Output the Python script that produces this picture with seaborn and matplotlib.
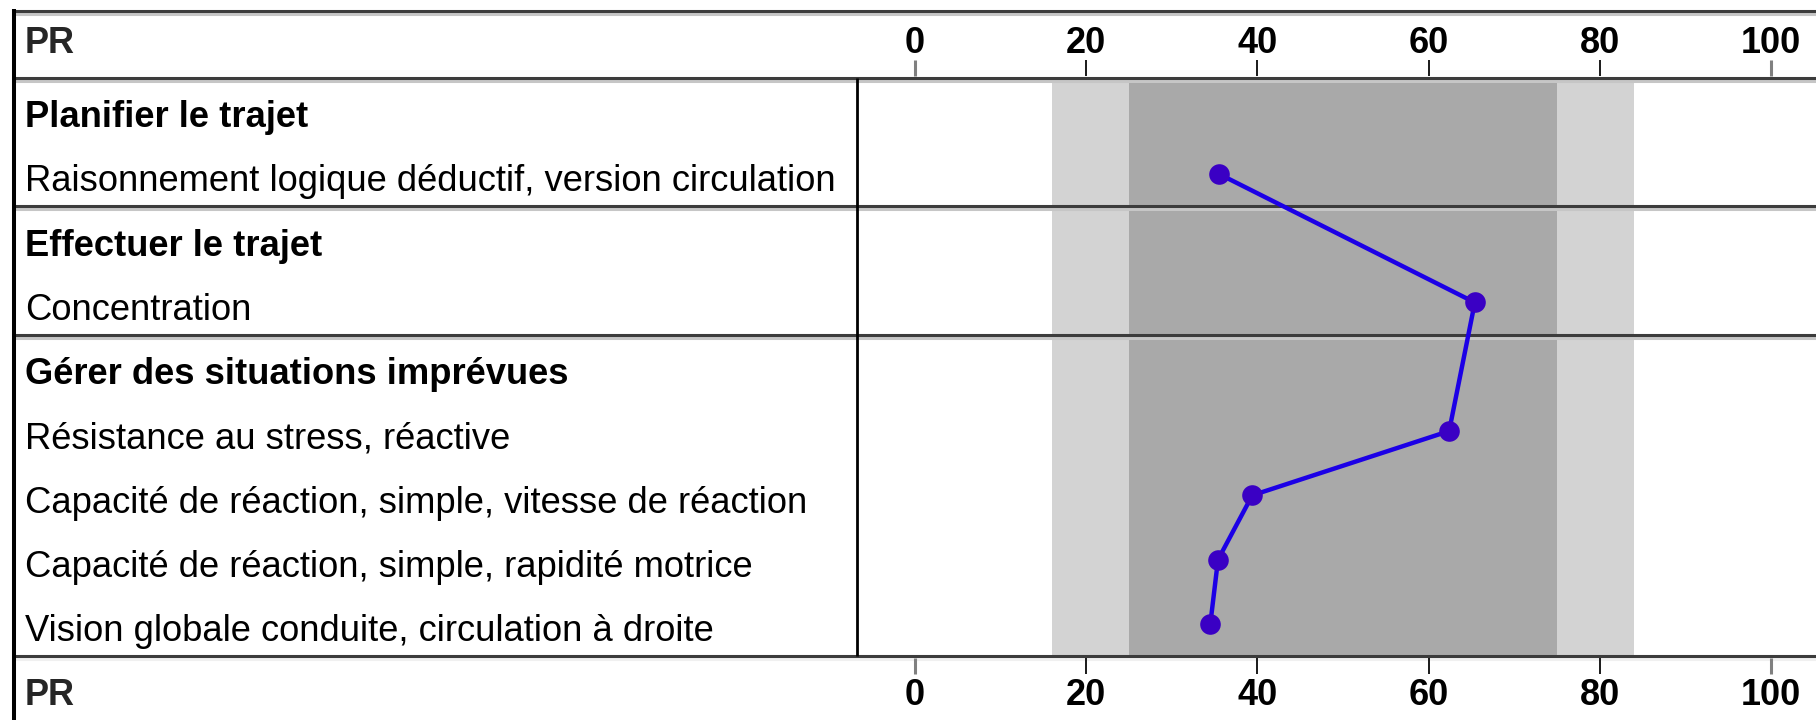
import pandas as pd
import matplotlib
matplotlib.use('Agg')
import matplotlib.pyplot as plt
import seaborn as sns

# row labels (top to bottom) and which are group headers
row_labels = [
    'Planifier le trajet',
    'Raisonnement logique déductif, version circulation',
    'Effectuer le trajet',
    'Concentration',
    'Gérer des situations imprévues',
    'Résistance au stress, réactive',
    'Capacité de réaction, simple, vitesse de réaction',
    'Capacité de réaction, simple, rapidité motrice',
    'Vision globale conduite, circulation à droite',
]
is_group = [True, False, True, False, True, False, False, False, False]

# test items and their PR values
items = [
    'Raisonnement logique déductif, version circulation',
    'Concentration',
    'Résistance au stress, réactive',
    'Capacité de réaction, simple, vitesse de réaction',
    'Capacité de réaction, simple, rapidité motrice',
    'Vision globale conduite, circulation à droite',
]
pr_values = [35.5, 65.4, 62.4, 39.4, 35.4, 34.5]

pr_ticks = [0, 20, 40, 60, 80, 100]
outer_band = (16, 84)
inner_band = (25, 75)
group_breaks = [0.5, 2.5, 4.5, 9.5]

sns.set_theme(style='white')
plt.rcParams['font.family'] = ['Liberation Sans', 'DejaVu Sans']
narrow = ['Liberation Sans Narrow', 'Liberation Sans', 'DejaVu Sans']

df = pd.DataFrame({
    'item': items,
    'pr': pr_values,
    'row': [row_labels.index(i) + 1 for i in items],
})

fig = plt.figure(figsize=(18.16, 7.2), dpi=100)
ax = fig.add_axes([0, 0, 1, 1])
ax.set_xlim(-915 / 8.56, (1816 - 915) / 8.56)
ax.set_ylim(10.495, -0.7057)
ax.axis('off')

# reference bands
ax.fill_betweenx([0.5, 9.5], outer_band[0], outer_band[1], color='#d3d3d3', lw=0, zorder=1)
ax.fill_betweenx([0.5, 9.5], inner_band[0], inner_band[1], color='#a9a9a9', lw=0, zorder=1)

# horizontal rules with a light shadow line below
x0, x1 = ax.get_xlim()
left = -105.3
for y in [-0.542] + group_breaks:
    shade = '#f0f0f0' if y == 9.5 else '#c6c6c6'
    ax.hlines(y + 0.047, left, x1, color=shade, lw=2.2, zorder=2)
    ax.hlines(y, left, x1, color='#3c3c3c', lw=2.2, zorder=3)

# vertical rules
ax.vlines(left, -0.56, 10.5, color='black', lw=2.9, zorder=4)
ax.vlines(-6.83, 0.5, 9.5, color='black', lw=2.0, zorder=4)

# tick marks and labels, top and bottom
for t in pr_ticks:
    edge = t in (0, 100)
    col = '#808080' if edge else '#1a1a1a'
    w = 2.2 if edge else 1.4
    ax.vlines(t, 0.228, 0.475, color=col, lw=w, zorder=3)
    ax.vlines(t, 9.53, 9.78, color=col, lw=w, zorder=3)
    ax.text(t, 0.119, str(t), ha='center', va='baseline', fontsize=26,
            fontweight='bold', family=narrow, color='black')
    ax.text(t, 10.26, str(t), ha='center', va='baseline', fontsize=26,
            fontweight='bold', family=narrow, color='black')

ax.text(-104.0, 0.119, 'PR', ha='left', va='baseline', fontsize=26, fontweight='bold', family=narrow)
ax.text(-104.0, 10.26, 'PR', ha='left', va='baseline', fontsize=26, fontweight='bold', family=narrow)

# row labels
for i, (lab, grp) in enumerate(zip(row_labels, is_group), start=1):
    ax.text(-104.0, i + 0.27, lab, ha='left', va='baseline', fontsize=26.2,
            fontweight='bold' if grp else 'normal', color='black')

# profile line
sns.lineplot(data=df, x='pr', y='row', sort=False, estimator=None,
             color='#1c00e6', lw=3.2, ax=ax, zorder=5)
sns.scatterplot(data=df, x='pr', y='row', color='#3a00c4', s=220,
                linewidth=0, ax=ax, zorder=6)
ax.set_xlim(x0, x1)
ax.set_ylim(10.495, -0.7057)

fig.savefig('out.png', dpi=100)
